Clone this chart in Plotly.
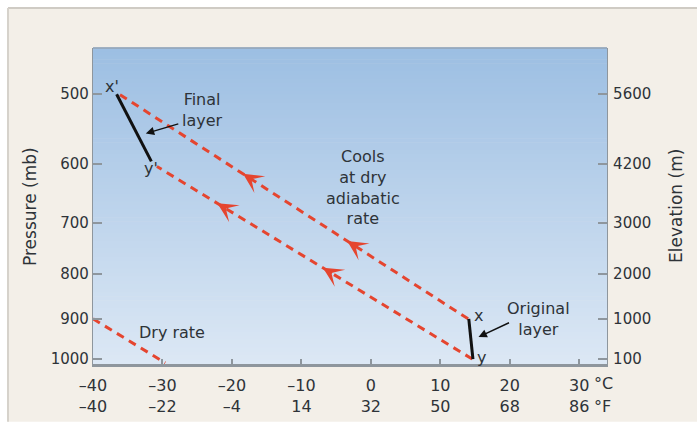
import numpy as np
import plotly.graph_objects as go

# axis ticks
celsius_ticks = [-40, -30, -20, -10, 0, 10, 20, 30]
fahrenheit_ticks = [-40, -22, -4, 14, 32, 50, 68, 86]
pressure_ticks = [500, 600, 700, 800, 900, 1000]
elevation_ticks = [5600, 4200, 3000, 2000, 1000, 100]

# layer x-y lifted from 900-1000 mb up to 500-600 mb
top_path_temp = [14.0, -36.2]
top_path_pres = [900, 500]
bottom_path_temp = [14.6, -30.8]
bottom_path_pres = [1000, 604]
original_layer_temp = [14.1, 14.7]
original_layer_pres = [900, 1000]
final_layer_temp = [-36.6, -31.6]
final_layer_pres = [500, 596]
dry_rate_temp = [-40, -29.6]
dry_rate_pres = [900, 1010]

# where the arrowheads sit on the two paths (deg C)
top_arrow_temps = [-18.4, -3.4]
bottom_arrow_temps = [-22.1, -6.9]

# text labels: (text, temp, pressure)
labels = [
    ("x'", -37.3, 490),
    ("y'", -31.6, 607),
    ("x", 15.5, 892),
    ("y", 16.0, 995),
    ("Final<br>layer", -24.2, 521),
    ("Cools<br>at dry<br>adiabatic<br>rate", -1.1, 639),
    ("Original<br>layer", 24.1, 901),
    ("Dry rate", -28.6, 934),
]

RED = "#e5452f"
INK = "#2e3338"
AXIS = "#8e969d"
FONT = "DejaVu Sans, Verdana, sans-serif"


def dash_label(v):
    return str(v).replace("-", "\u2013")


def on_path(temps, pres, t):
    # straight on screen = linear in log pressure; returns log10(p) for annotations
    f = (t - temps[0]) / (temps[1] - temps[0])
    lp0, lp1 = np.log10(pres[0]), np.log10(pres[1])
    return lp0 + f * (lp1 - lp0)


y_range = [np.log10(1013), np.log10(443)]

fig = go.Figure()

for temps, pres in [(top_path_temp, top_path_pres),
                    (bottom_path_temp, bottom_path_pres),
                    (dry_rate_temp, dry_rate_pres)]:
    fig.add_trace(go.Scatter(x=temps, y=pres, mode="lines",
                             line=dict(color=RED, width=3, dash="8px,6px"),
                             hoverinfo="skip"))

fig.add_trace(go.Scatter(x=final_layer_temp, y=final_layer_pres, mode="lines",
                         line=dict(color="#111111", width=3), hoverinfo="skip"))
# original layer goes on the elevation axis (same scale) so that axis is drawn
fig.add_trace(go.Scatter(x=original_layer_temp, y=original_layer_pres, mode="lines",
                         line=dict(color="#111111", width=3), hoverinfo="skip",
                         yaxis="y2"))

annotations = []

# red arrowheads pointing up the paths (short tail hidden under the head)
for temps, pres, arrow_temps in [(top_path_temp, top_path_pres, top_arrow_temps),
                                 (bottom_path_temp, bottom_path_pres, bottom_arrow_temps)]:
    for t in arrow_temps:
        annotations.append(dict(
            x=t, y=on_path(temps, pres, t), xref="x", yref="y",
            ax=t + 1.2, ay=on_path(temps, pres, t + 1.2), axref="x", ayref="y",
            text="", showarrow=True, arrowhead=3, arrowsize=1.45,
            arrowwidth=2.3, arrowcolor=RED))

# pointers to the layers
annotations.append(dict(x=-32.4, y=np.log10(554), xref="x", yref="y", ax=34, ay=-10,
                        text="", showarrow=True, arrowhead=2, arrowsize=1.2,
                        arrowwidth=1.4, arrowcolor="#111111"))
annotations.append(dict(x=15.5, y=np.log10(944), xref="x", yref="y", ax=32, ay=-15,
                        text="", showarrow=True, arrowhead=2, arrowsize=1.2,
                        arrowwidth=1.4, arrowcolor="#111111"))

for text, t, p in labels:
    annotations.append(dict(x=t, y=np.log10(p), xref="x", yref="y", text=text,
                            showarrow=False, font=dict(size=16, color=INK, family=FONT)))

# axis titles and units
title_font = dict(size=17, color=INK, family=FONT)
unit_font = dict(size=16, color=INK, family=FONT)
annotations += [
    dict(x=-0.1226, y=0.5, xref="paper", yref="paper", text="Pressure (mb)",
         textangle=-90, xanchor="center", yanchor="middle", showarrow=False, font=title_font),
    dict(x=1.134, y=0.5, xref="paper", yref="paper", text="Elevation (m)",
         textangle=-90, xanchor="center", yanchor="middle", showarrow=False, font=title_font),
    dict(x=0.971, y=-0.063, xref="paper", yref="paper", text="\u00b0C",
         xanchor="left", yanchor="middle", showarrow=False, font=unit_font),
    dict(x=0.971, y=-0.133, xref="paper", yref="paper", text="\u00b0F",
         xanchor="left", yanchor="middle", showarrow=False, font=unit_font),
]

# beige frame and sky gradient behind the plot
shapes = [
    dict(type="rect", xref="paper", yref="paper", x0=-0.1654, x1=1.2, y0=-0.183, y1=1.1266,
         fillcolor="#f3efe8", line=dict(width=0), layer="below"),
    dict(type="line", xref="paper", yref="paper", x0=-0.1654, x1=1.2, y0=1.1266, y1=1.1266,
         line=dict(color="#cfcbc4", width=2), layer="below"),
    dict(type="line", xref="paper", yref="paper", x0=-0.1654, x1=-0.1654, y0=-0.183, y1=1.1266,
         line=dict(color="#d6d2cb", width=2), layer="below"),
]
top_rgb = np.array([157, 191, 227])
bot_rgb = np.array([220, 232, 245])
n = 80
for i in range(n):
    c = top_rgb + (bot_rgb - top_rgb) * i / (n - 1)
    shapes.append(dict(type="rect", xref="paper", yref="paper", x0=0, x1=1,
                       y0=1 - (i + 1) / n, y1=1 - i / n + 0.002,
                       fillcolor="rgb(%d,%d,%d)" % tuple(c.astype(int)),
                       line=dict(width=0), layer="below"))
shapes.append(dict(type="line", xref="paper", yref="paper", x0=0, x1=1, y0=1, y1=1,
                   line=dict(color=AXIS, width=1.2)))

fig.update_layout(
    width=697, height=429,
    margin=dict(l=93, r=90, t=48, b=65),
    paper_bgcolor="white",
    plot_bgcolor="rgba(0,0,0,0)",
    showlegend=False,
    font=dict(family=FONT, size=15, color=INK),
    xaxis=dict(range=[-40, 34], tickvals=celsius_ticks,
               ticktext=[dash_label(c) + "<br>" + dash_label(f)
                         for c, f in zip(celsius_ticks, fahrenheit_ticks)],
               showgrid=False, zeroline=False, showline=True, linecolor=AXIS,
               linewidth=2.5, ticks="inside", ticklen=5, tickwidth=1.5,
               tickcolor=AXIS, ticklabelstandoff=5, tickfont=dict(size=16, color=INK)),
    yaxis=dict(type="log", range=y_range, tickvals=pressure_ticks,
               ticktext=[str(p) for p in pressure_ticks],
               showgrid=False, zeroline=False, showline=True, linecolor=AXIS,
               linewidth=1.2, ticks="inside", ticklen=9, tickwidth=1.5,
               tickcolor=AXIS, tickfont=dict(size=15, color=INK)),
    yaxis2=dict(type="log", range=y_range, overlaying="y", side="right",
                tickvals=pressure_ticks, ticktext=[str(e) for e in elevation_ticks],
                showgrid=False, zeroline=False, showline=True, linecolor=AXIS,
                linewidth=1.2, ticks="inside", ticklen=9, tickwidth=1.5,
                tickcolor=AXIS, ticklabelstandoff=2, tickfont=dict(size=15, color=INK)),
    annotations=annotations,
    shapes=shapes,
)

fig.write_html("out.html", config={"displayModeBar": False},
               post_script="document.body.style.margin = '0';")
